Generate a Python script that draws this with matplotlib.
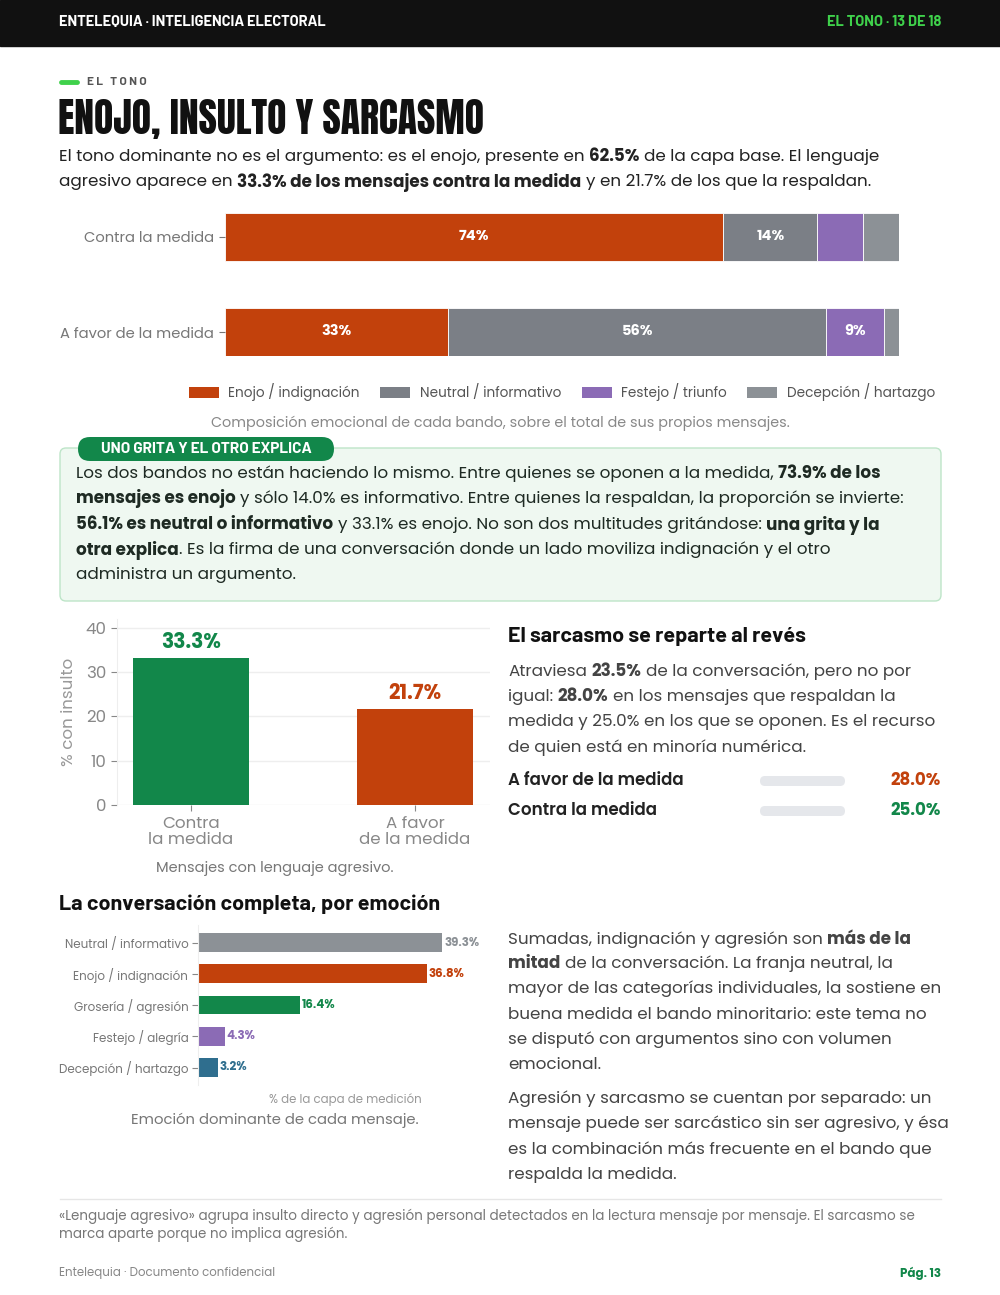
import matplotlib
matplotlib.use("Agg")
import matplotlib.pyplot as plt
from matplotlib.patches import Patch, FancyBboxPatch, Rectangle
from matplotlib.transforms import IdentityTransform
from matplotlib.lines import Line2D

# --- data -------------------------------------------------------------
sides = ["Contra la medida", "A favor de la medida"]
mix_cats = ["Enojo / indignación", "Neutral / informativo", "Festejo / triunfo", "Decepción / hartazgo"]
mix_contra = [73.9, 14.0, 6.8, 5.3]
mix_favor = [33.1, 56.1, 8.6, 2.2]

insult_sides = ["Contra\nla medida", "A favor\nde la medida"]
insult_pct = [33.3, 21.7]

sarc_sides = ["A favor de la medida", "Contra la medida"]
sarc_pct = [28.0, 25.0]

emo_cats = ["Neutral / informativo", "Enojo / indignación", "Grosería / agresión",
            "Festejo / alegría", "Decepción / hartazgo"]
emo_pct = [39.3, 36.8, 16.4, 4.3, 3.2]

# --- style ------------------------------------------------------------
ORANGE = "#C2410C"
NEUTRAL = "#7B7F86"
PURPLE = "#8B6BB5"
GREYD = "#8C9196"
GREEN = "#12874A"
TEAL = "#2F6E8E"
LIME = "#3FD14B"
mix_colors = [ORANGE, NEUTRAL, PURPLE, GREYD]
emo_colors = [GREYD, ORANGE, GREEN, PURPLE, TEAL]

BODY = ["Poppins", "Open Sans", "DejaVu Sans"]
HEAD = ["Barlow", "Roboto", "DejaVu Sans"]
TITLE = ["Anton", "DejaVu Sans"]

W, H = 1000, 1295
fig = plt.figure(figsize=(10, 12.95), dpi=100)
renderer = fig.canvas.get_renderer()


def fx(px):
    return px / W


def fy(py):
    return 1 - py / H


def text_w(s, size, weight, family):
    t = fig.text(0, 0, s, fontsize=size, fontweight=weight, family=family)
    w = t.get_window_extent(renderer).width
    t.remove()
    return w


def rich_line(x, y, parts, size=12.1, color="#222222", family=BODY):
    # parts: list of (text, bold)
    sp = text_w("a a", size, "normal", family) - text_w("aa", size, "normal", family)
    cx = x
    for s, bold in parts:
        wt = "bold" if bold else "normal"
        lead = len(s) - len(s.lstrip(" "))
        trail = len(s) - len(s.rstrip(" "))
        core = s.strip(" ")
        cx += lead * sp
        if core:
            fig.text(fx(cx), fy(y), core, fontsize=size, fontweight=wt, family=family,
                     color=color, va="center", ha="left")
            cx += text_w(core, size, wt, family)
        cx += trail * sp


def box(x0, y0, x1, y1, r, fc, ec="none", lw=1):
    p = FancyBboxPatch((x0, H - y1), x1 - x0, y1 - y0,
                       boxstyle=f"round,pad=0,rounding_size={r}",
                       fc=fc, ec=ec, lw=lw, transform=IdentityTransform())
    fig.add_artist(p)


# --- header -----------------------------------------------------------
fig.add_artist(Rectangle((0, fy(46)), 1, 46 / H, transform=fig.transFigure,
                         color="#111111", zorder=0))
fig.text(fx(59), fy(22), "ENTELEQUIA · INTELIGENCIA ELECTORAL", color="white",
         fontsize=10.5, fontweight="bold", family=HEAD, va="center")
fig.text(fx(941), fy(22), "EL TONO · 13 DE 18", color=LIME,
         fontsize=10.5, fontweight="bold", family=HEAD, va="center", ha="right")

fig.add_artist(Line2D([fx(61), fx(77)], [fy(82), fy(82)], color=LIME, lw=3.5,
                      solid_capstyle="round", transform=fig.transFigure))
fig.text(fx(87), fy(82), "E L   T O N O", color="#555555", fontsize=8.5,
         fontweight="bold", family=HEAD, va="center")
fig.text(fx(58), fy(119), "ENOJO, INSULTO Y SARCASMO", color="#111111",
         fontsize=28.5, family=TITLE, va="center")

rich_line(59, 157, [("El tono dominante no es el argumento: es el enojo, presente en ", False),
                    ("62.5%", True), (" de la capa base. El lenguaje", False)])
rich_line(59, 182, [("agresivo aparece en ", False),
                    ("33.3% de los mensajes contra la medida", True),
                    (" y en 21.7% de los que la respaldan.", False)])

# --- stacked composition bars ----------------------------------------
ax1 = fig.add_axes([fx(225), fy(356), fx(899 - 225), (356 - 213) / H])
left = [0, 0]
for i, cat in enumerate(mix_cats):
    vals = [mix_contra[i], mix_favor[i]]
    ax1.barh([0, 1], vals, left=left, height=0.5, color=mix_colors[i],
             edgecolor="white", lw=0.6, label=cat)
    for j, v in enumerate(vals):
        if v >= 8:
            ax1.text(left[j] + v / 2, j, f"{v:.0f}%", ha="center", va="center",
                     color="white", fontsize=10.5, fontweight="bold", family=BODY)
    left = [left[0] + vals[0], left[1] + vals[1]]
ax1.set_xlim(0, 100)
ax1.set_ylim(1.25, -0.25)
ax1.set_yticks([0, 1])
ax1.set_yticklabels(sides, fontsize=10.6, color="#777777", family=BODY)
ax1.tick_params(axis="y", length=4, color="#777777", pad=4)
ax1.set_xticks([])
for s in ax1.spines.values():
    s.set_visible(False)

handles = [Patch(fc=c, ec="none") for c in mix_colors]
fig.legend(handles, mix_cats, loc="center", bbox_to_anchor=(fx(562), fy(392)),
           ncol=4, frameon=False, labelcolor="#555555",
           handlelength=2.2, handleheight=0.85, columnspacing=1.5, handletextpad=0.7,
           prop={"family": BODY, "size": 9.8})
fig.text(fx(500), fy(423), "Composición emocional de cada bando, sobre el total de sus propios mensajes.",
         ha="center", va="center", fontsize=10.3, color="#888888", family=BODY)

# --- callout ----------------------------------------------------------
box(60, 448, 941, 601, 6, "#EFF8F1", "#BDE5C8", 1)
box(78, 437, 334, 461, 12, GREEN)
fig.text(fx(206), fy(449), "UNO GRITA Y EL OTRO EXPLICA", color="white", fontsize=11,
         fontweight="bold", family=HEAD, ha="center", va="center")
CT = "#1E2A23"
rich_line(76, 474, [("Los dos bandos no están haciendo lo mismo. Entre quienes se oponen a la medida, ", False),
                    ("73.9% de los", True)], color=CT)
rich_line(76, 499, [("mensajes es enojo", True),
                    (" y sólo 14.0% es informativo. Entre quienes la respaldan, la proporción se invierte:", False)],
          color=CT)
rich_line(76, 525, [("56.1% es neutral o informativo", True),
                    (" y 33.1% es enojo. No son dos multitudes gritándose: ", False),
                    ("una grita y la", True)], color=CT)
rich_line(76, 550, [("otra explica", True),
                    (". Es la firma de una conversación donde un lado moviliza indignación y el otro", False)],
          color=CT)
rich_line(76, 575, [("administra un argumento.", False)], color=CT)

# --- insult bar chart -------------------------------------------------
ax2 = fig.add_axes([fx(117), fy(805), fx(490 - 117), (805 - 619) / H])
ax2.bar([0, 1], insult_pct, width=0.52, color=[GREEN, ORANGE], zorder=3)
for i, v in enumerate(insult_pct):
    ax2.text(i, v + 0.8, f"{v:.1f}%", ha="center", va="bottom", fontsize=14.5,
             fontweight="bold", color=[GREEN, ORANGE][i], family=BODY)
ax2.set_xlim(-0.33, 1.335)
ax2.set_ylim(0, 42)
ax2.set_yticks([0, 10, 20, 30, 40])
ax2.set_xticks([0, 1])
ax2.set_xticklabels(insult_sides, fontsize=12, color="#888888", family=BODY, linespacing=0.95)
ax2.tick_params(axis="y", labelsize=12, labelcolor="#888888", color="#888888", length=4)
ax2.tick_params(axis="x", color="#888888", length=4, pad=4)
for lab in ax2.get_yticklabels():
    lab.set_family(BODY)
ax2.grid(axis="y", color="#EEEEEE", lw=1, zorder=0)
for k in ["top", "right", "bottom"]:
    ax2.spines[k].set_visible(False)
ax2.spines["left"].set_color("#EEEEEE")
ax2.set_ylabel("% con insulto", fontsize=12, color="#999999", family=BODY, labelpad=6)
fig.text(fx(275), fy(868), "Mensajes con lenguaje agresivo.", ha="center", va="center",
         fontsize=10.5, color="#777777", family=BODY)

# --- sarcasm column ---------------------------------------------------
fig.text(fx(508), fy(636), "El sarcasmo se reparte al revés", fontsize=15.5, fontweight="bold",
         family=HEAD, color="#111111", va="center")
ST = "#444444"
rich_line(508, 672, [("Atraviesa ", False), ("23.5%", True), (" de la conversación, pero no por", False)], color=ST)
rich_line(508, 697, [("igual: ", False), ("28.0%", True), (" en los mensajes que respaldan la", False)], color=ST)
rich_line(508, 722, [("medida y 25.0% en los que se oponen. Es el recurso", False)], color=ST)
rich_line(508, 748, [("de quien está en minoría numérica.", False)], color=ST)

sarc_colors = [ORANGE, GREEN]
for i, (lab, v) in enumerate(zip(sarc_sides, sarc_pct)):
    yy = 781 + 30 * i
    fig.text(fx(508), fy(yy), lab, fontsize=12, fontweight="semibold", family=BODY,
             color="#222222", va="center")
    box(760, yy - 5, 845, yy + 5, 5, "#E5E7EB")
    fig.text(fx(941), fy(yy), f"{v:.1f}%", fontsize=12, fontweight="bold", family=BODY,
             color=sarc_colors[i], va="center", ha="right")

# --- emotion horizontal bars ------------------------------------------
fig.text(fx(59), fy(904), "La conversación completa, por emoción", fontsize=15.5, fontweight="bold",
         family=HEAD, color="#111111", va="center")
ax3 = fig.add_axes([fx(198), fy(1085), fx(492 - 198), (1085 - 925) / H])
ypos = list(range(len(emo_cats)))
ax3.barh(ypos, emo_pct, height=0.6, color=emo_colors)
for i, v in enumerate(emo_pct):
    ax3.text(v + 0.3, i, f"{v:.1f}%", ha="left", va="center", fontsize=8.5,
             fontweight="bold", color=emo_colors[i], family=BODY)
ax3.set_xlim(0, 47.3)
ax3.set_ylim(4.56, -0.56)
ax3.set_yticks(ypos)
ax3.set_yticklabels(emo_cats, fontsize=8.6, color="#777777", family=BODY)
ax3.tick_params(axis="y", length=4, color="#888888", pad=3)
ax3.set_xticks([])
for k in ["top", "right", "bottom"]:
    ax3.spines[k].set_visible(False)
ax3.spines["left"].set_color("#EEEEEE")
ax3.set_xlabel("% de la capa de medición", fontsize=8.5, color="#999999", family=BODY, labelpad=6)
fig.text(fx(275), fy(1120), "Emoción dominante de cada mensaje.", ha="center", va="center",
         fontsize=10.7, color="#777777", family=BODY)

rich_line(508, 940, [("Sumadas, indignación y agresión son ", False), ("más de la", True)], color=ST)
rich_line(508, 964, [("mitad", True), (" de la conversación. La franja neutral, la", False)], color=ST)
for k, line in enumerate(["mayor de las categorías individuales, la sostiene en",
                          "buena medida el bando minoritario: este tema no",
                          "se disputó con argumentos sino con volumen",
                          "emocional."]):
    rich_line(508, [989, 1015, 1040, 1065][k], [(line, False)], color=ST)
for k, line in enumerate(["Agresión y sarcasmo se cuentan por separado: un",
                          "mensaje puede ser sarcástico sin ser agresivo, y ésa",
                          "es la combinación más frecuente en el bando que",
                          "respalda la medida."]):
    rich_line(508, [1099, 1124, 1150, 1175][k], [(line, False)], color=ST)

# --- footer -----------------------------------------------------------
fig.add_artist(Line2D([fx(60), fx(941)], [fy(1199), fy(1199)], color="#E6E6E6", lw=1,
                      transform=fig.transFigure))
fig.text(fx(59), fy(1216), "«Lenguaje agresivo» agrupa insulto directo y agresión personal detectados en la lectura mensaje por mensaje. El sarcasmo se",
         fontsize=9.7, color="#777777", family=BODY, va="center")
fig.text(fx(59), fy(1234), "marca aparte porque no implica agresión.",
         fontsize=9.7, color="#777777", family=BODY, va="center")
fig.text(fx(59), fy(1273), "Entelequia · Documento confidencial", fontsize=8.5, color="#888888",
         family=BODY, va="center")
fig.text(fx(941), fy(1273), "Pág. 13", fontsize=8.5, color=GREEN, fontweight="bold",
         family=BODY, va="center", ha="right")

fig.savefig("out.png", dpi=100, facecolor="white")
